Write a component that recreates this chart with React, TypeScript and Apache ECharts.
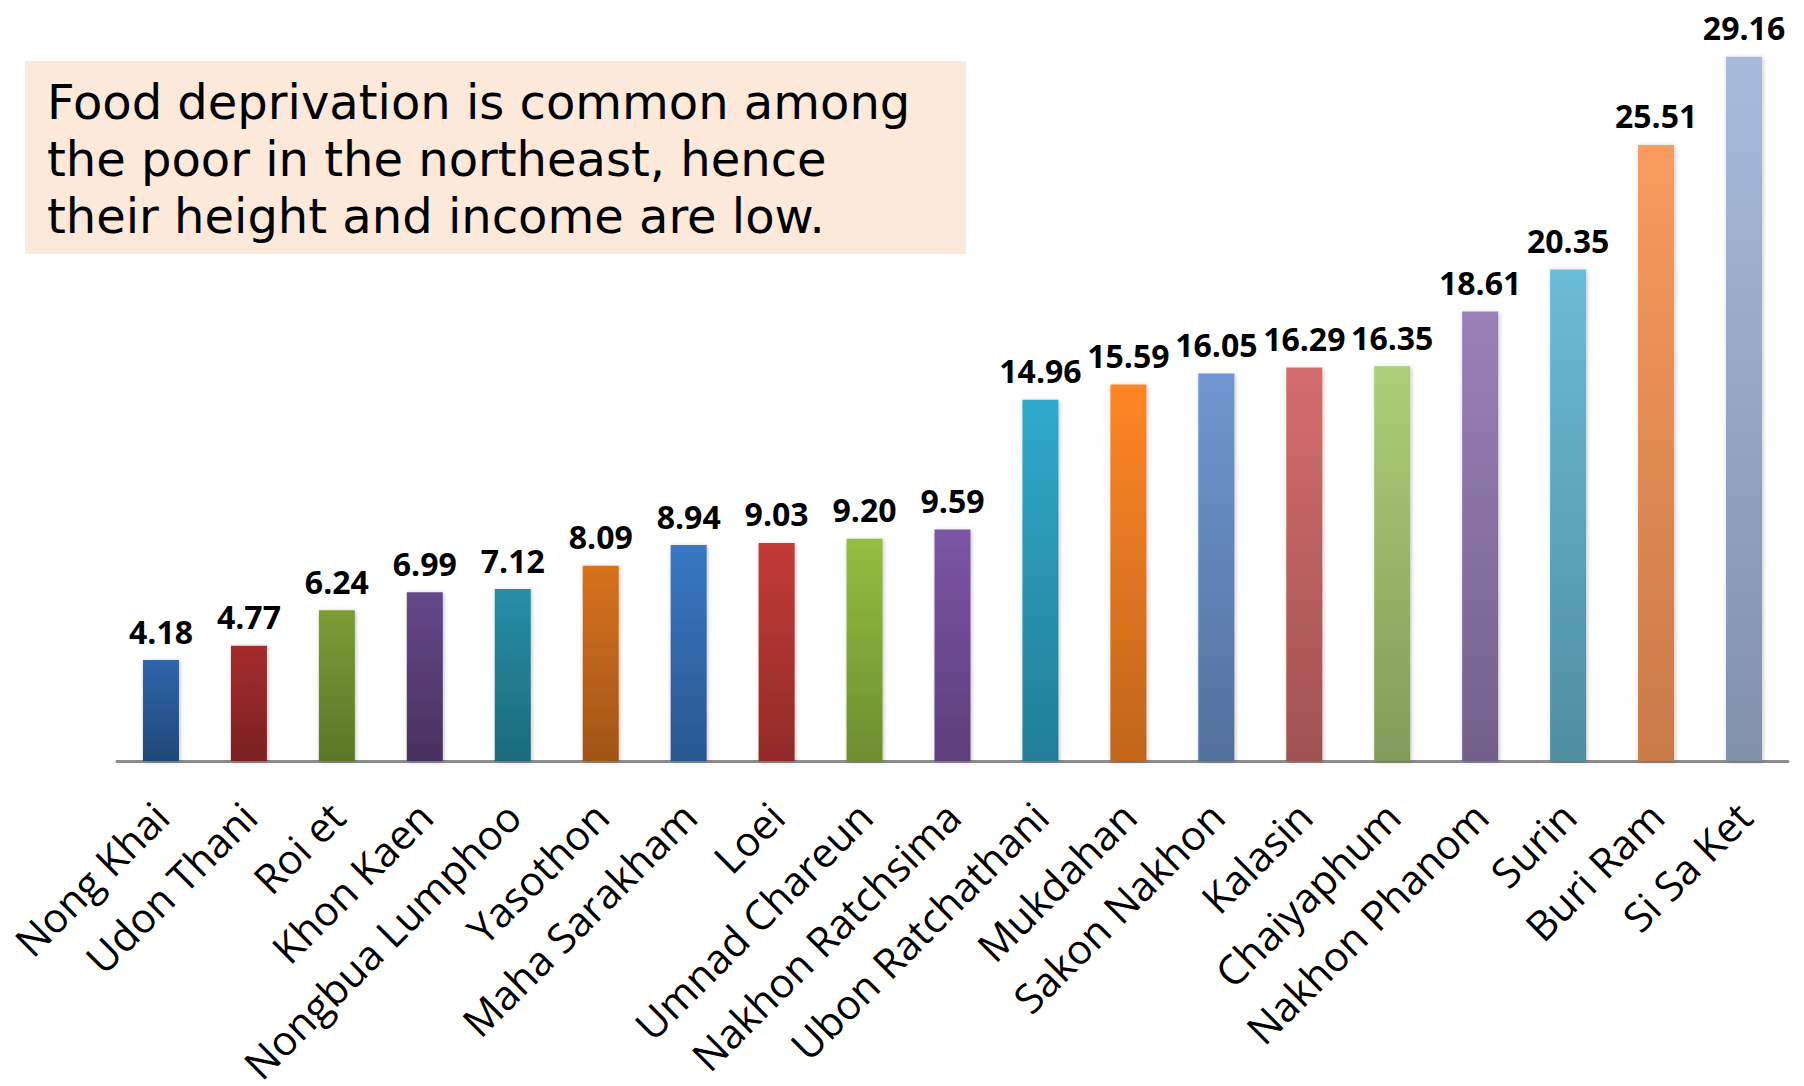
import React, { useEffect, useRef } from "react";
import * as echarts from "echarts";

const categories = [
  "Nong Khai", "Udon Thani", "Roi et", "Khon Kaen", "Nongbua Lumphoo", "Yasothon",
  "Maha Sarakham", "Loei", "Umnad Chareun", "Nakhon Ratchsima", "Ubon Ratchathani",
  "Mukdahan", "Sakon Nakhon", "Kalasin", "Chaiyaphum", "Nakhon Phanom", "Surin",
  "Buri Ram", "Si Sa Ket",
];
const values = [4.18, 4.77, 6.24, 6.99, 7.12, 8.09, 8.94, 9.03, 9.2, 9.59, 14.96, 15.59, 16.05, 16.29, 16.35, 18.61, 20.35, 25.51, 29.16];
const topColors = [
  "#2E66AB", "#A52D2D", "#7C9C37", "#644889", "#268FA6", "#D7721F", "#3877C2", "#C23A36",
  "#94BE3F", "#7C55A4", "#2FAACB", "#FF8625", "#7096D1", "#D46D6D", "#AECE77", "#9981B8",
  "#6BBCD6", "#F99B5E", "#A9BBDC",
];
const bottomColors = [
  "#1F4878", "#7A2020", "#5C7628", "#47315E", "#1C6A7A", "#A05517", "#2A5890", "#912B28",
  "#6E8D2F", "#5C3F7A", "#227E96", "#C0651C", "#52709C", "#A05252", "#839B59", "#72608A",
  "#508DA1", "#C87A49", "#8290AA",
];
const noteLines = [
  "Food deprivation is common among",
  "the poor in the northeast, hence",
  "their height and income are low.",
];

export default function App() {
  const ref = useRef<HTMLDivElement>(null);
  useEffect(() => {
    document.body.style.margin = "0";
    const chart = echarts.init(ref.current!, null, { renderer: "svg" });
    chart.setOption({
      animation: false,
      backgroundColor: "#ffffff",
      grid: {
        left: 117,
        right: 16,
        top: 36.5,
        bottom: 325,
        containLabel: false,
        outerBoundsMode: "none",
      },
      xAxis: {
        type: "category",
        data: categories,
        axisLine: { lineStyle: { color: "#8c8c8c", width: 3 } },
        axisTick: { show: false },
        axisLabel: {
          interval: 0,
          rotate: 45,
          margin: 48,
          fontFamily: "Open Sans",
          fontSize: 41,
          color: "#000000",
        },
      },
      yAxis: {
        type: "value",
        min: 0,
        max: 30,
        show: false,
        splitLine: { show: false },
      },
      series: [
        {
          type: "bar",
          barWidth: 36,
          data: values.map((v, i) => ({
            value: v,
            itemStyle: {
              color: new echarts.graphic.LinearGradient(0, 0, 0, 1, [
                { offset: 0, color: topColors[i] },
                { offset: 1, color: bottomColors[i] },
              ]),
              shadowColor: "rgba(0,0,0,0.25)",
              shadowBlur: 4,
              shadowOffsetX: 1,
              shadowOffsetY: 1,
            },
          })),
          label: {
            show: true,
            position: "top",
            distance: 13,
            fontFamily: "Open Sans",
            fontWeight: "bold",
            fontSize: 32,
            color: "#000000",
            formatter: (p: any) => p.value.toFixed(2),
          },
        },
      ],
      graphic: [
        {
          type: "rect",
          shape: { x: 25, y: 61, width: 941, height: 193 },
          style: { fill: "#FDE9DA" },
          z: 10,
        },
        ...noteLines.map((t, i) => ({
          type: "text",
          x: 47,
          y: 102 + i * 57,
          z: 11,
          style: {
            text: t,
            font: "48px 'DejaVu Sans'",
            fill: "#000000",
            verticalAlign: "middle",
          },
        })),
      ],
    });
    return () => chart.dispose();
  }, []);
  return <div ref={ref} style={{ width: 1804, height: 1086 }} />;
}
